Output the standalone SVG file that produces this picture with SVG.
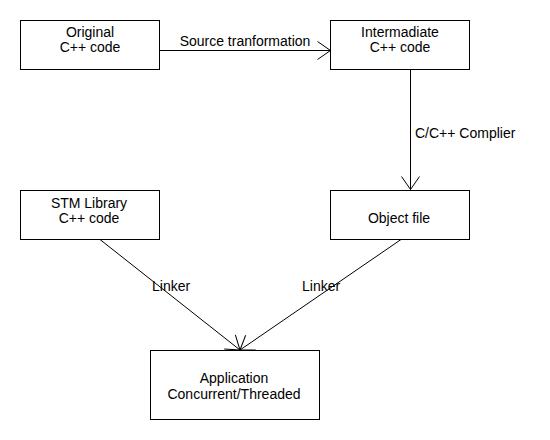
<svg xmlns="http://www.w3.org/2000/svg" width="550" height="440" viewBox="0 0 550 440">
<style>
.box{fill:#fff;stroke:#000;stroke-width:1}
.t{font-family:"Liberation Sans",Arial,sans-serif;font-size:14px;fill:#000;text-anchor:middle}
.tl{font-family:"Liberation Sans",Arial,sans-serif;font-size:14px;fill:#000}
.c{stroke:#000;stroke-width:1;fill:none;marker-end:url(#open)}
</style>
<defs>
<marker id="open" markerUnits="userSpaceOnUse" markerWidth="30" markerHeight="30" viewBox="-15 -15 30 30" refX="0" refY="0" orient="auto">
<path d="M-13,-9 L0,0 L-13,9" fill="none" stroke="#000" stroke-width="1"/>
</marker>
</defs>
<rect width="550" height="440" fill="#fff"/>
<g id="connectors">
<line class="c" x1="159.5" y1="50.5" x2="330.5" y2="50.5"/>
<line class="c" x1="410.5" y1="69.5" x2="410.5" y2="189.5"/>
<line class="c" x1="100" y1="239.5" x2="240" y2="350"/>
<line class="c" x1="401" y1="239.5" x2="240" y2="350"/>
<text class="t" x="245" y="46">Source tranformation</text>
<text class="tl" x="415" y="138">C/C++ Complier</text>
<text class="tl" x="152" y="291">Linker</text>
<text class="tl" x="302" y="291">Linker</text>
</g>
<g id="original">
<rect class="box" x="20.5" y="20.5" width="139" height="49"/>
<text class="t" x="90" y="37">Original</text>
<text class="t" x="90" y="52">C++ code</text>
</g>
<g id="intermediate">
<rect class="box" x="330.5" y="20.5" width="139" height="49"/>
<text class="t" x="400" y="37">Intermadiate</text>
<text class="t" x="400" y="52">C++ code</text>
</g>
<g id="stm">
<rect class="box" x="20.5" y="190.5" width="139" height="49"/>
<text class="t" x="89" y="208">STM Library</text>
<text class="t" x="89" y="223">C++ code</text>
</g>
<g id="object">
<rect class="box" x="330.5" y="190.5" width="139" height="49"/>
<text class="t" x="399" y="223">Object file</text>
</g>
<g id="application">
<rect class="box" x="150.5" y="350.5" width="169" height="69"/>
<text class="t" x="234" y="383">Application</text>
<text class="t" x="234" y="399">Concurrent/Threaded</text>
</g>
</svg>
